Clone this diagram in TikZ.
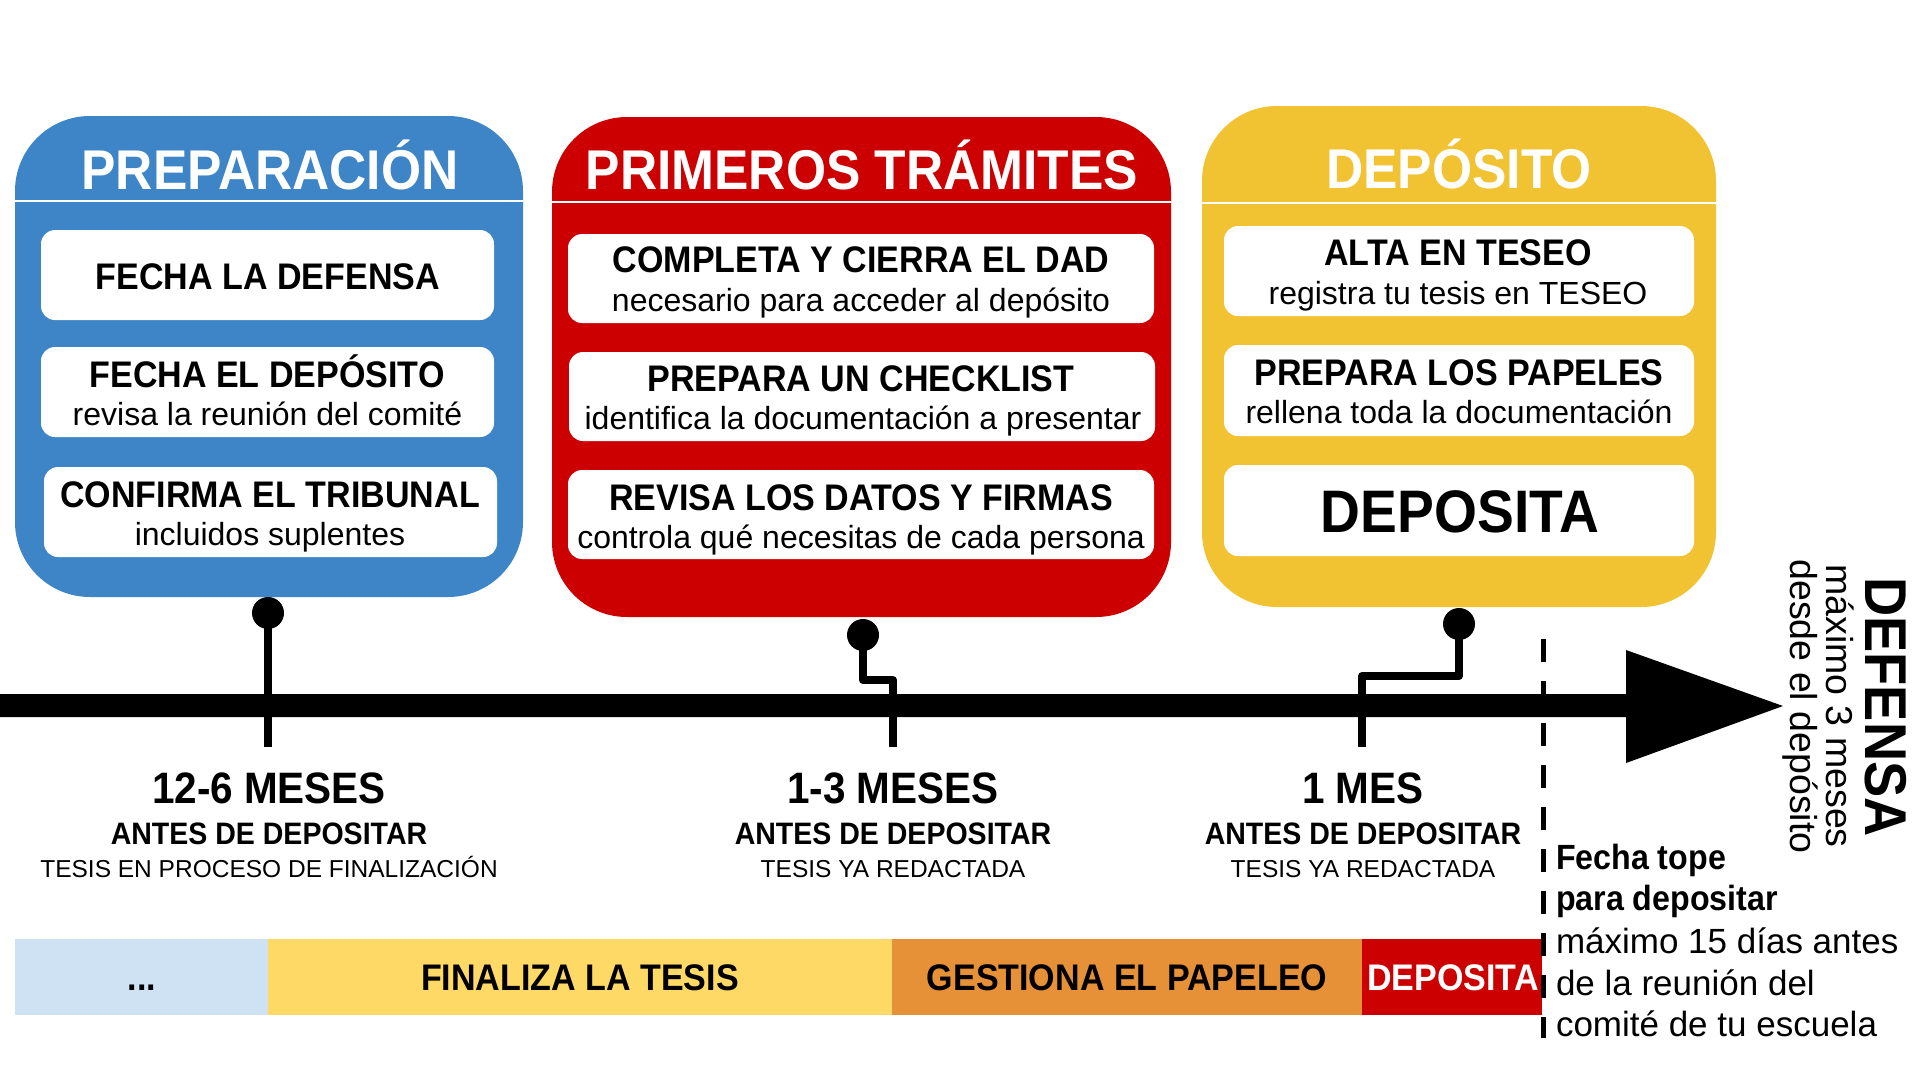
\documentclass[tikz,border=0pt]{standalone}
\usepackage{fontspec}
\setmainfont{Liberation Sans}
\newfontfamily\condbold{Liberation Sans}[FakeStretch=0.92]
\usepackage{graphicx}
\definecolor{cblue}{HTML}{3D85C6}
\definecolor{cred}{HTML}{CC0000}
\definecolor{cyel}{HTML}{F1C232}
\definecolor{clblue}{HTML}{CFE2F3}
\definecolor{clyel}{HTML}{FFD966}
\definecolor{corange}{HTML}{E69138}
\begin{document}
\begin{tikzpicture}[x=1pt,y=-1pt,
  bigbox/.style={fill=#1, rounded corners=75pt, inner sep=0pt, outer sep=0pt},
  card/.style={fill=white, rounded corners=14pt, inner sep=0pt, outer sep=0pt},
  barseg/.style={fill=#1, inner sep=0pt, outer sep=0pt, minimum height=76pt},
  divider/.style={white, line width=2.5pt},
  lbl/.style={inner sep=0pt, outer sep=0pt, anchor=base},
  ttlfont/.style={lbl, text=white, font={\condbold\bfseries\fontsize{56}{60}\selectfont}},
  cardh/.style={lbl, font={\condbold\bfseries\fontsize{37}{40}\selectfont}},
  cardsub/.style={lbl, font={\fontsize{32}{36}\selectfont}},
  bigtxt/.style={lbl, font={\condbold\bfseries\fontsize{60}{64}\selectfont}},
  xwhen/.style={lbl, font={\condbold\bfseries\fontsize{44}{48}\selectfont}},
  xwhenb/.style={lbl, font={\condbold\bfseries\fontsize{31}{34}\selectfont}},
  xwhens/.style={lbl, font={\fontsize{24.5}{28}\selectfont}},
  barh/.style={lbl, font={\condbold\bfseries\fontsize{37}{40}\selectfont}},
  noteb/.style={lbl, anchor=base west, font={\condbold\bfseries\fontsize{35}{40}\selectfont}},
  noter/.style={lbl, anchor=base west, font={\fontsize{35}{40}\selectfont}},
  deff/.style={lbl, rotate=-90, font={\condbold\bfseries\fontsize{59}{64}\selectfont}},
  defs/.style={lbl, rotate=-90, font={\fontsize{37.5}{42}\selectfont}},
  dotpin/.style={circle, fill=black, minimum size=32pt, inner sep=0pt, outer sep=0pt},
  xstem/.style={line width=8pt, line join=round},
  dashv/.style={line width=5pt, dash pattern=on 23pt off 19pt}
]
\fill[white] (0,0) rectangle (1920,1080);
\useasboundingbox (0,0) rectangle (1920,1080);

% panels
\node[bigbox=cblue, minimum width=508pt, minimum height=481pt] (prep) at (269,356.5) {};
\node[bigbox=cred, minimum width=619pt, minimum height=500pt] (tram) at (861.5,367) {};
\node[bigbox=cyel, minimum width=514pt, minimum height=501pt] (depo) at (1459,356.5) {};

\draw[divider] (15,201) -- (523,201);
\draw[divider] (552,202) -- (1171,202);
\draw[divider] (1202,203) -- (1716,203);

% cards
\node[card, minimum width=453pt, minimum height=90pt] (p1) at (267.5,275) {};
\node[card, minimum width=453pt, minimum height=90pt] (p2) at (267.5,392) {};
\node[card, minimum width=453pt, minimum height=90pt] (p3) at (270.5,512) {};
\node[card, minimum width=586pt, minimum height=89pt] (r1) at (861,278.5) {};
\node[card, minimum width=586pt, minimum height=89pt] (r2) at (862,396.5) {};
\node[card, minimum width=586pt, minimum height=89pt] (r3) at (861,514.5) {};
\node[card, minimum width=470pt, minimum height=90pt] (y1) at (1459,271) {};
\node[card, minimum width=470pt, minimum height=91pt] (y2) at (1459,390.5) {};
\node[card, minimum width=470pt, minimum height=91pt] (y3) at (1459,510.5) {};

% titles
\node[ttlfont] (tprep) at (270,189) {PREPARACIÓN};
\node[ttlfont] (ttram) at (862,189) {PRIMEROS TRÁMITES};
\node[ttlfont] (tdepo) at (1459,188) {DEPÓSITO};

% card texts
\node[cardh] (p1h) at (268,289) {FECHA LA DEFENSA};
\node[cardh] (p2h) at (267,387) {FECHA EL DEPÓSITO};
\node[cardsub] (p2s) at (267.5,425) {revisa la reunión del comité};
\node[cardh] (p3h) at (270,507) {CONFIRMA EL TRIBUNAL};
\node[cardsub] (p3s) at (270,545) {incluidos suplentes};
\node[cardh] (r1h) at (861,272) {COMPLETA Y CIERRA EL DAD};
\node[cardsub] (r1s) at (861,311) {necesario para acceder al depósito};
\node[cardh] (r2h) at (861,391) {PREPARA UN CHECKLIST};
\node[cardsub] (r2s) at (863,429) {identifica la documentación a presentar};
\node[cardh] (r3h) at (861,510) {REVISA LOS DATOS Y FIRMAS};
\node[cardsub] (r3s) at (861,548) {controla qué necesitas de cada persona};
\node[cardh] (y1h) at (1458,265) {ALTA EN TESEO};
\node[cardsub] (y1s) at (1458,304) {registra tu tesis en TESEO};
\node[cardh] (y2h) at (1459,385) {PREPARA LOS PAPELES};
\node[cardsub] (y2s) at (1459,423) {rellena toda la documentación};
\node[bigtxt] (y3h) at (1460,532) {DEPOSITA};

% timeline arrow
\fill[black] (0,694) -- (1626,694) -- (1626,650) -- (1783,706) -- (1626,763) -- (1626,717) -- (0,717) -- cycle;

% pins
\node[dotpin] (pinA) at (268,613) {};
\node[dotpin] (pinB) at (863,635) {};
\node[dotpin] (pinC) at (1459,624) {};
\coordinate (tickA) at (268,747);
\coordinate (kneeB) at (893,680);
\coordinate (tickB) at (893,747);
\coordinate (kneeC) at (1362,676);
\coordinate (tickC) at (1362,747);
\draw[xstem] (pinA.center) -- (tickA);
\draw[xstem] (pinB.center) |- (kneeB) -- (tickB);
\draw[xstem] (pinC.center) |- (kneeC) -- (tickC);

% labels under timeline
\node[xwhen] (w1) at (269,803) {12-6 MESES};
\node[xwhenb] (w1b) at (269,844) {ANTES DE DEPOSITAR};
\node[xwhens] (w1s) at (269,877) {TESIS EN PROCESO DE FINALIZACIÓN};
\node[xwhen] (w2) at (893,803) {1-3 MESES};
\node[xwhenb] (w2b) at (893,844) {ANTES DE DEPOSITAR};
\node[xwhens] (w2s) at (893,877) {TESIS YA REDACTADA};
\node[xwhen] (w3) at (1363,803) {1 MES};
\node[xwhenb] (w3b) at (1363,844) {ANTES DE DEPOSITAR};
\node[xwhens] (w3s) at (1363,877) {TESIS YA REDACTADA};

% bottom bar
\node[barseg=clblue, minimum width=253pt] (s1) at (141.5,977) {};
\node[barseg=clyel, minimum width=624pt] (s2) at (580,977) {};
\node[barseg=corange, minimum width=470pt] (s3) at (1127,977) {};
\node[barseg=cred, minimum width=180pt] (s4) at (1452,977) {};
\node[barh] (s1t) at (142,990) {...};
\node[barh] (s2t) at (580,990) {FINALIZA LA TESIS};
\node[barh] (s3t) at (1127,990) {GESTIONA EL PAPELEO};
\node[barh, text=white] (s4t) at (1453,990) {DEPOSITA};

% deadline dashed line
\coordinate (dtop) at (1543,639);
\coordinate (dbot) at (1543,1038);
\draw[dashv] (dtop) -- (dbot);

% note
\node[noteb] (n1) at (1556,869) {Fecha tope};
\node[noteb] (n2) at (1556,910) {para depositar};
\node[noter] (n3) at (1556,953) {máximo 15 días antes};
\node[noter] (n4) at (1556,995) {de la reunión del};
\node[noter] (n5) at (1556,1036) {comité de tu escuela};

% defensa
\node[deff] (def) at (1865,707) {DEFENSA};
\node[defs] (def2) at (1826,706) {máximo 3 meses};
\node[defs] (def3) at (1790,706.5) {desde el depósito};
\end{tikzpicture}
\end{document}
